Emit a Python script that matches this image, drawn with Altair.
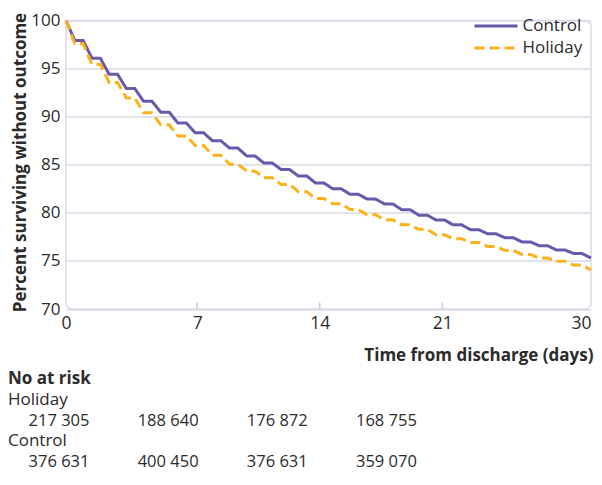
import altair as alt
import pandas as pd

# ---------------- data ----------------
groups = ["Control", "Holiday"]
start_value = 100
control_steps = [97.93, 96.07, 94.40, 92.93, 91.60, 90.47, 89.33, 88.33, 87.50, 86.73,
                 85.90, 85.17, 84.50, 83.83, 83.10, 82.50, 81.93, 81.43, 80.93, 80.33,
                 79.76, 79.26, 78.75, 78.25, 77.82, 77.41, 76.98, 76.58, 76.14, 75.77]
control_end = 75.30
holiday_steps = [97.60, 95.45, 93.55, 91.95, 90.40, 89.15, 88.00, 87.00, 86.00, 85.05,
                 84.33, 83.65, 82.95, 82.20, 81.48, 80.95, 80.35, 79.80, 79.27, 78.75,
                 78.28, 77.72, 77.31, 76.91, 76.50, 76.08, 75.67, 75.30, 74.97, 74.57]
holiday_end = 74.07

x_tick_values = [0, 7.5, 14.5, 21.5, 30]
x_tick_labels = ["0", "7", "14", "21", "30"]
y_tick_values = [70, 75, 80, 85, 90, 95, 100]

risk_days = [0, 7, 14, 21]
holiday_at_risk = ["217 305", "188 640", "176 872", "168 755"]
control_at_risk = ["376 631", "400 450", "376 631", "359 070"]
risk_rows = ["No at risk", "Holiday", "Holiday n", "Control", "Control n"]

# ---------------- build tables ----------------
curve = []
for g, steps, end in [("Control", control_steps, control_end),
                      ("Holiday", holiday_steps, holiday_end)]:
    order = 0
    curve.append(dict(group=g, day=0.0, pct=start_value, o=order))
    for k, v in enumerate(steps):
        t0 = 0.5 + 0.983 * k
        order += 1
        curve.append(dict(group=g, day=t0, pct=v, o=order))
        order += 1
        curve.append(dict(group=g, day=t0 + 0.48, pct=v, o=order))
    curve.append(dict(group=g, day=30.0, pct=end, o=order + 1))
curve_df = pd.DataFrame(curve)

ticks_df = pd.DataFrame({"day": x_tick_values[1:4]})

nums = []
for d, h, c in zip(risk_days, holiday_at_risk, control_at_risk):
    nums.append(dict(row="Holiday n", day=d, txt=h))
    nums.append(dict(row="Control n", day=d, txt=c))
nums_df = pd.DataFrame(nums)
head_df = pd.DataFrame({"row": ["No at risk"], "txt": ["No at risk"]})
lab_df = pd.DataFrame({"row": ["Holiday", "Control"], "txt": ["Holiday", "Control"]})

# ---------------- style ----------------
FONT = "Open Sans"
TXT = "#2b2b2b"
FRAME = "#d8dae6"
colors = ["#6a58ab", "#fbb21b"]
label_expr = "{" + ",".join(f"'{v}':'{l}'" for v, l in zip(x_tick_values, x_tick_labels)) + "}[''+datum.value]"
last_tick = x_tick_values[-1]

legend = alt.Legend(title=None, orient="none", legendX=418.5, legendY=-6,
                    symbolType="M-2.15,0H2.15", symbolSize=400, symbolStrokeWidth=3,
                    labelFontSize=17, labelOffset=15, padding=0,
                    labelColor=TXT, labelFont=FONT)

x_enc = alt.X("day:Q",
              scale=alt.Scale(domain=[0, 30], nice=False, zero=False),
              axis=alt.Axis(values=x_tick_values, labelExpr=label_expr,
                            labelFlush=False,
                            labelAlign=alt.ExprRef(expr=f"datum.value == {last_tick} ? 'right' : 'center'"),
                            title="Time from discharge (days)", grid=False, ticks=False,
                            domain=False, labelFontSize=17.5, labelPadding=5,
                            labelColor=TXT, labelFont=FONT,
                            titleFontSize=17, titleFontWeight="bold", titleColor=TXT,
                            titleFont=FONT, titleAlign="right", titleX=527, titleY=46,
                            titleBaseline="middle"))
y_enc = alt.Y("pct:Q",
              scale=alt.Scale(domain=[70, 100], nice=False, zero=False),
              axis=alt.Axis(values=y_tick_values, title="Percent surviving without outcome",
                            grid=True, gridColor=FRAME, gridWidth=1.3, ticks=False,
                            domain=False, labelPadding=6, labelFontSize=17,
                            labelColor=TXT, labelFont=FONT,
                            titleFontSize=17, titleFontWeight="bold", titleColor=TXT,
                            titleFont=FONT, titleX=-45.5, titleY=141.5, titleBaseline="middle",
                            titleAngle=270))

lines = alt.Chart(curve_df).mark_line(strokeWidth=3, clip=False).encode(
    x=x_enc, y=y_enc,
    color=alt.Color("group:N", scale=alt.Scale(domain=groups, range=colors), legend=legend),
    strokeDash=alt.StrokeDash("group:N", scale=alt.Scale(domain=groups, range=[[1, 0], [10, 5]]),
                              legend=legend),
    order="o:Q",
)

inner_ticks = alt.Chart(ticks_df).mark_rule(color="#c9cbd8", strokeWidth=1.5).encode(
    x="day:Q", y=alt.datum(70), y2=alt.datum(70.65)
)

plot = alt.layer(inner_ticks, lines)

row_y = alt.Y("row:N", scale=alt.Scale(domain=risk_rows, type="point", range=[358.5, 441.5], padding=0),
              axis=None)
num_x = alt.X("day:Q", scale=alt.Scale(domain=[0.449, 34.124], nice=False, zero=False), axis=None)

nums_layer = alt.Chart(nums_df).mark_text(font=FONT, fontSize=16.5, color=TXT, align="center",
                                          baseline="middle").encode(x=num_x, y=row_y, text="txt:N")
head_layer = alt.Chart(head_df).mark_text(font=FONT, fontSize=17, fontWeight="bold", color=TXT,
                                          align="left", baseline="middle").encode(
    x=alt.value(-58), y=row_y, text="txt:N")
lab_layer = alt.Chart(lab_df).mark_text(font=FONT, fontSize=17, color=TXT, align="left",
                                        baseline="middle").encode(
    x=alt.value(-58), y=row_y, text="txt:N")

table = alt.layer(head_layer, lab_layer, nums_layer)

chart = alt.layer(plot, table).resolve_scale(x="independent", y="independent").properties(
    width=525, height=288.5,
    padding={"left": 58, "top": 12.5, "right": 3, "bottom": 164},
    autosize=alt.AutoSizeParams(type="none"),
).configure(font=FONT).configure_view(
    stroke=FRAME, strokeWidth=1.5, cornerRadius=6
)

chart.save("out.html", embed_options={"renderer": "svg", "actions": False})
